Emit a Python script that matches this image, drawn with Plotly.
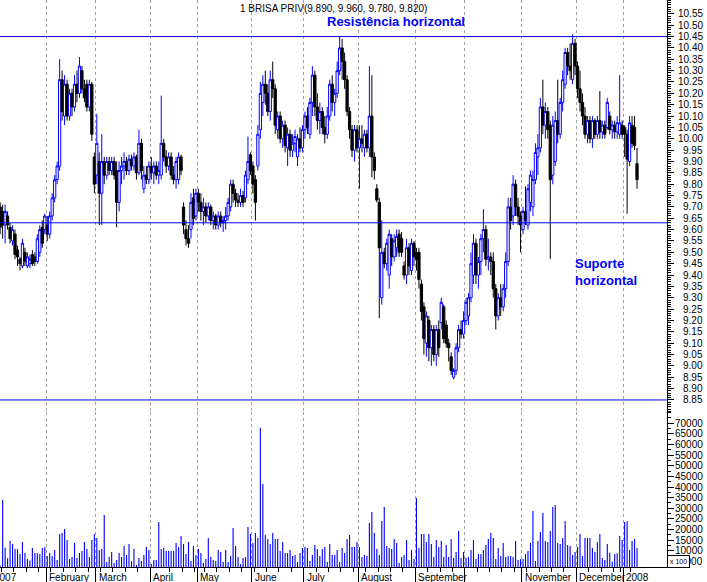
import pandas as pd
import plotly.graph_objects as go

# ---------------- data ----------------
holidays = ["2007-01-01", "2007-04-06", "2007-04-09", "2007-05-01",
            "2007-12-25", "2007-12-26", "2008-01-01"]
dates = [d for d in pd.bdate_range("2006-12-29", "2008-01-09")
         if d.strftime("%Y-%m-%d") not in holidays]

opens = [
    9.64, 9.68, 9.66, 9.70, 9.70, 9.68, 9.62, 9.66, 9.61, 9.55,
    9.58, 9.51, 9.47, 9.44, 9.50, 9.44, 9.45, 9.49, 9.48, 9.46,
    9.50, 9.61, 9.60, 9.62, 9.58, 9.66, 9.74, 9.82, 9.88, 10.26,
    10.10, 10.24, 10.10, 10.20, 10.14, 10.24, 10.20, 10.30, 10.22, 10.24,
    10.14, 10.24, 9.92, 9.84, 9.90, 9.76, 9.90, 9.84, 9.90, 9.86,
    9.90, 9.86, 9.72, 9.86, 9.88, 9.90, 9.86, 9.91, 9.88, 9.92,
    9.85, 9.98, 9.78, 9.84, 9.82, 9.88, 9.85, 9.88, 9.84, 9.84,
    9.98, 9.92, 9.88, 9.92, 9.84, 9.82, 9.82, 9.92, 9.70, 9.60,
    9.56, 9.60, 9.74, 9.66, 9.76, 9.72, 9.68, 9.70, 9.66, 9.70,
    9.64, 9.66, 9.62, 9.66, 9.63, 9.64, 9.66, 9.70, 9.80, 9.76,
    9.73, 9.72, 9.75, 9.74, 9.82, 9.93, 9.88, 9.82, 9.88, 10.04,
    10.16, 10.24, 10.20, 10.12, 10.26, 10.22, 10.04, 10.10, 10.00, 10.06,
    9.96, 10.02, 9.95, 9.98, 9.92, 10.00, 9.96, 10.04, 10.10, 10.02,
    10.16, 10.28, 10.14, 10.08, 10.12, 10.05, 10.02, 10.10, 10.24, 10.16,
    10.20, 10.30, 10.40, 10.34, 10.26, 10.12, 10.04, 9.95, 10.04, 9.96,
    10.00, 9.96, 10.02, 9.96, 10.10, 9.92, 9.78, 9.72, 9.30, 9.50,
    9.45, 9.40, 9.56, 9.48, 9.52, 9.58, 9.56, 9.44, 9.40, 9.52,
    9.42, 9.54, 9.50, 9.50, 9.36, 9.26, 9.10, 9.20, 9.08, 9.16,
    9.05, 9.16, 9.19, 9.26, 9.18, 9.10, 9.04, 8.95, 8.98, 9.08,
    9.16, 9.14, 9.20, 9.22, 9.30, 9.40, 9.54, 9.40, 9.46, 9.56,
    9.60, 9.47, 9.48, 9.46, 9.34, 9.22, 9.30, 9.26, 9.34, 9.46,
    9.70, 9.66, 9.80, 9.70, 9.66, 9.60, 9.68, 9.62, 9.72, 9.70,
    9.82, 9.92, 9.96, 10.14, 10.06, 10.12, 10.06, 9.84, 9.90, 10.08,
    10.02, 10.16, 10.24, 10.38, 10.32, 10.26, 10.42, 10.32, 10.22, 10.16,
    10.10, 10.02, 10.08, 10.00, 10.08, 10.02, 10.08, 10.03, 10.06, 10.05,
    10.10, 10.04, 10.06, 10.03, 10.02, 10.06, 10.05, 10.02, 9.90, 10.06,
    10.05, 9.89,
]
highs = [
    9.70, 9.72, 9.72, 9.71, 9.72, 9.71, 9.71, 9.68, 9.63, 9.62,
    9.60, 9.53, 9.48, 9.56, 9.52, 9.50, 9.49, 9.51, 9.50, 9.58,
    9.62, 9.64, 9.67, 9.66, 9.68, 9.76, 9.84, 9.90, 10.35, 10.30,
    10.28, 10.26, 10.22, 10.22, 10.28, 10.30, 10.36, 10.32, 10.26, 10.26,
    10.26, 10.25, 9.94, 10.11, 9.94, 10.02, 9.92, 9.92, 9.92, 9.92,
    9.92, 9.90, 9.90, 9.92, 9.94, 9.92, 9.93, 9.93, 9.94, 9.93,
    10.04, 10.00, 9.88, 9.88, 9.90, 9.92, 9.90, 9.90, 9.90, 10.19,
    10.00, 9.95, 9.94, 9.94, 9.88, 9.92, 9.94, 9.93, 9.72, 9.64,
    9.62, 9.76, 9.78, 9.78, 9.78, 9.76, 9.74, 9.72, 9.72, 9.71,
    9.68, 9.67, 9.68, 9.68, 9.66, 9.70, 9.74, 9.82, 9.82, 9.78,
    9.76, 9.78, 9.77, 9.86, 10.01, 9.94, 9.90, 9.84, 10.06, 10.25,
    10.28, 10.30, 10.24, 10.30, 10.34, 10.24, 10.12, 10.12, 10.08, 10.08,
    10.05, 10.04, 10.02, 10.04, 10.02, 10.05, 10.06, 10.12, 10.14, 10.18,
    10.32, 10.30, 10.20, 10.16, 10.14, 10.10, 10.14, 10.26, 10.28, 10.22,
    10.34, 10.45, 10.44, 10.38, 10.28, 10.14, 10.06, 10.06, 10.06, 10.06,
    10.06, 10.04, 10.04, 10.32, 10.28, 9.94, 9.80, 9.74, 9.64, 9.52,
    9.56, 9.60, 9.58, 9.58, 9.60, 9.60, 9.59, 9.46, 9.56, 9.54,
    9.56, 9.55, 9.52, 9.52, 9.38, 9.28, 9.24, 9.22, 9.18, 9.18,
    9.18, 9.20, 9.30, 9.27, 9.20, 9.12, 9.06, 8.99, 9.10, 9.18,
    9.20, 9.24, 9.30, 9.32, 9.50, 9.58, 9.56, 9.48, 9.58, 9.69,
    9.62, 9.56, 9.50, 9.50, 9.36, 9.32, 9.36, 9.36, 9.50, 9.74,
    9.74, 9.84, 9.82, 9.74, 9.68, 9.70, 9.79, 9.80, 9.86, 9.86,
    9.98, 10.02, 10.18, 10.26, 10.16, 10.14, 10.08, 10.10, 10.12, 10.26,
    10.18, 10.30, 10.40, 10.40, 10.42, 10.46, 10.44, 10.34, 10.30, 10.20,
    10.14, 10.10, 10.10, 10.10, 10.09, 10.10, 10.21, 10.08, 10.08, 10.18,
    10.12, 10.08, 10.08, 10.10, 10.28, 10.08, 10.06, 10.04, 10.10, 10.10,
    10.10, 9.96,
]
lows = [
    9.62, 9.64, 9.64, 9.62, 9.58, 9.56, 9.54, 9.60, 9.54, 9.53,
    9.47, 9.44, 9.42, 9.43, 9.44, 9.43, 9.43, 9.44, 9.44, 9.45,
    9.48, 9.52, 9.58, 9.55, 9.56, 9.64, 9.72, 9.80, 9.86, 10.08,
    10.06, 10.08, 10.08, 10.10, 10.12, 10.16, 10.18, 10.20, 10.16, 10.12,
    10.12, 9.99, 9.76, 9.80, 9.62, 9.62, 9.80, 9.82, 9.84, 9.84,
    9.82, 9.61, 9.68, 9.80, 9.82, 9.84, 9.84, 9.86, 9.86, 9.82,
    9.84, 9.82, 9.76, 9.80, 9.80, 9.82, 9.80, 9.82, 9.80, 9.82,
    9.90, 9.85, 9.86, 9.82, 9.80, 9.78, 9.80, 9.84, 9.58, 9.53,
    9.52, 9.56, 9.62, 9.64, 9.68, 9.64, 9.62, 9.63, 9.64, 9.62,
    9.60, 9.60, 9.60, 9.61, 9.59, 9.60, 9.64, 9.68, 9.72, 9.70,
    9.70, 9.70, 9.70, 9.72, 9.80, 9.84, 9.76, 9.64, 9.86, 10.00,
    10.10, 10.15, 10.10, 10.08, 10.18, 10.02, 10.00, 9.98, 9.96, 9.94,
    9.88, 9.92, 9.92, 9.94, 9.88, 9.94, 9.94, 10.00, 10.02, 10.00,
    10.10, 10.10, 10.04, 10.02, 10.02, 9.98, 10.00, 10.08, 10.12, 10.10,
    10.18, 10.28, 10.26, 10.22, 10.10, 10.00, 9.92, 9.90, 9.94, 9.78,
    9.94, 9.92, 9.94, 9.92, 9.83, 9.82, 9.72, 9.21, 9.27, 9.43,
    9.42, 9.34, 9.44, 9.46, 9.48, 9.48, 9.48, 9.38, 9.36, 9.40,
    9.40, 9.44, 9.42, 9.34, 9.20, 9.05, 9.04, 9.02, 9.00, 9.02,
    9.00, 9.04, 9.16, 9.10, 9.08, 9.02, 8.96, 8.94, 8.96, 9.06,
    9.12, 9.12, 9.18, 9.18, 9.28, 9.36, 9.36, 9.34, 9.40, 9.50,
    9.44, 9.42, 9.40, 9.30, 9.16, 9.20, 9.22, 9.24, 9.30, 9.44,
    9.60, 9.62, 9.66, 9.62, 9.50, 9.58, 9.62, 9.60, 9.68, 9.66,
    9.80, 9.84, 9.94, 10.02, 10.00, 10.00, 9.47, 9.80, 9.88, 9.98,
    10.00, 10.12, 10.22, 10.28, 10.26, 10.24, 10.28, 10.18, 10.12, 10.06,
    10.00, 9.98, 9.98, 9.96, 10.00, 10.00, 10.00, 10.00, 10.00, 10.04,
    10.02, 10.00, 10.00, 10.00, 10.00, 10.00, 9.92, 9.67, 9.88, 9.96,
    9.95, 9.78,
]
closes = [
    9.68, 9.66, 9.70, 9.65, 9.61, 9.62, 9.68, 9.62, 9.56, 9.60,
    9.49, 9.48, 9.45, 9.54, 9.46, 9.48, 9.47, 9.45, 9.46, 9.56,
    9.60, 9.54, 9.66, 9.58, 9.66, 9.74, 9.82, 9.88, 10.26, 10.12,
    10.24, 10.10, 10.20, 10.14, 10.24, 10.20, 10.32, 10.22, 10.18, 10.14,
    10.24, 10.02, 9.80, 9.98, 9.76, 9.90, 9.84, 9.90, 9.86, 9.90,
    9.84, 9.72, 9.86, 9.88, 9.90, 9.86, 9.91, 9.88, 9.92, 9.85,
    9.98, 9.86, 9.84, 9.82, 9.88, 9.85, 9.88, 9.84, 9.86, 9.98,
    9.92, 9.88, 9.92, 9.84, 9.82, 9.90, 9.92, 9.86, 9.62, 9.56,
    9.54, 9.72, 9.65, 9.76, 9.72, 9.68, 9.70, 9.66, 9.70, 9.64,
    9.66, 9.62, 9.66, 9.63, 9.64, 9.66, 9.72, 9.80, 9.76, 9.73,
    9.72, 9.75, 9.72, 9.84, 9.90, 9.86, 9.80, 9.72, 10.02, 10.20,
    10.24, 10.20, 10.12, 10.26, 10.22, 10.06, 10.10, 10.00, 10.06, 9.97,
    10.02, 9.95, 9.98, 10.01, 10.00, 9.96, 10.04, 10.10, 10.05, 10.16,
    10.28, 10.14, 10.08, 10.12, 10.05, 10.02, 10.10, 10.24, 10.16, 10.20,
    10.30, 10.40, 10.34, 10.26, 10.12, 10.04, 9.95, 10.04, 9.96, 10.00,
    9.98, 10.02, 9.96, 10.10, 9.92, 9.86, 9.73, 9.52, 9.50, 9.45,
    9.54, 9.58, 9.48, 9.55, 9.57, 9.50, 9.50, 9.40, 9.52, 9.44,
    9.54, 9.48, 9.47, 9.38, 9.24, 9.12, 9.22, 9.08, 9.16, 9.05,
    9.16, 9.08, 9.28, 9.12, 9.10, 9.08, 8.98, 8.98, 9.08, 9.16,
    9.14, 9.20, 9.28, 9.30, 9.45, 9.54, 9.40, 9.46, 9.56, 9.60,
    9.47, 9.48, 9.46, 9.34, 9.22, 9.30, 9.26, 9.34, 9.46, 9.70,
    9.64, 9.80, 9.70, 9.66, 9.62, 9.68, 9.64, 9.78, 9.84, 9.82,
    9.94, 9.96, 10.14, 10.06, 10.12, 10.04, 9.82, 10.06, 10.08, 10.02,
    10.16, 10.26, 10.38, 10.32, 10.30, 10.42, 10.32, 10.22, 10.16, 10.10,
    10.02, 10.08, 10.00, 10.08, 10.02, 10.08, 10.03, 10.06, 10.02, 10.16,
    10.04, 10.06, 10.03, 10.07, 10.07, 10.02, 10.02, 9.91, 10.07, 9.98,
    9.97, 9.82,
]
volumes = [
    12000, 9000, 15000, 10000, 3000, 33900, 11450, 6430, 14580, 13170,
    10820, 10820, 8470, 14110, 8940, 6110, 5480, 11290, 8940, 8940,
    8470, 11290, 11760, 7530, 8940, 7530, 10350, 5640, 17880, 18350,
    20230, 15050, 6110, 7050, 13640, 6580, 8940, 9880, 14110, 10820,
    7050, 15050, 17880, 16000, 10350, 10820, 26820, 4700, 7050, 9410,
    4230, 5640, 8940, 7050, 12230, 8000, 13170, 5170, 10820, 3290,
    6580, 5170, 8000, 11760, 10350, 3760, 5640, 5640, 23530, 10820,
    11290, 9880, 9880, 9880, 9880, 13640, 11760, 16940, 13170, 8470,
    14110, 5170, 12230, 8000, 10820, 8940, 4230, 6110, 16000, 7050,
    5640, 5170, 10350, 9410, 4700, 10350, 4700, 7530, 20700, 12230,
    7050, 3760, 6580, 7050, 21170, 17880, 13640, 18350, 16000, 67930,
    41410, 17410, 15530, 13170, 18350, 15530, 15530, 9880, 14110, 8940,
    8940, 10350, 7530, 8000, 4700, 8940, 11290, 11760, 11290, 5170,
    8000, 12700, 10820, 7530, 10820, 11760, 4700, 13170, 8000, 8000,
    10350, 4700, 11290, 8940, 15530, 17410, 11760, 11760, 14110, 11760,
    7050, 8000, 7530, 23060, 28230, 18350, 10820, 8000, 24000, 30590,
    12230, 11290, 10820, 15530, 13640, 4230, 7050, 8000, 15050, 5640,
    10350, 6110, 34820, 11290, 17880, 17880, 14110, 17880, 13170, 7050,
    15050, 11760, 14580, 7050, 12700, 7050, 15530, 6580, 9410, 19290,
    6580, 9410, 6580, 7050, 10350, 15050, 6110, 8470, 8470, 10350,
    12700, 15530, 18350, 16000, 6110, 11290, 7530, 13640, 7050, 7530,
    7530, 7050, 14580, 5640, 6110, 6110, 8470, 9880, 13640, 28700,
    5170, 14580, 18820, 27760, 14580, 14110, 19290, 30590, 31530, 13640,
    13170, 16000, 24000, 12700, 12230, 8000, 9410, 11760, 17880, 7530,
    16000, 16000, 16000, 11290, 9410, 14110, 17880, 6580, 5640, 13170,
    9090, 4860, 8470, 8780, 16940, 15050, 23530, 23840, 10350, 14580,
    15530, 11290,
]

month_names = ["2007", "February", "March", "April", "May", "June", "July",
               "August", "September", "", "November", "December", "2008"]
resistance = 10.45
support = 9.63
floor_line = 8.85
ticker = "1 BRISA PRIV"

price_tick_min, price_tick_max, price_tick_step = 8.85, 10.55, 0.05
vol_tick_min, vol_tick_max, vol_tick_step = 5000, 70000, 5000

assert len(dates) == len(opens) == len(highs) == len(lows) == len(closes) == len(volumes)

# ---------------- geometry ----------------
W, H = 707, 582
ML, MR, MT, MB = 0, 40, 0, 15
PW, PH = W - ML - MR, H - MT - MB
price_px = 412
split = 1 - price_px / PH
x_range = [3.935, 273.1]
price_range = [8.797, 10.611]
vol_range = [2365, 75318]

idx = list(range(len(dates)))
month_starts = [i for i in idx if i > 0 and dates[i].month != dates[i - 1].month]
mondays = [i - 0.5 for i in idx if dates[i].weekday() == 0]
grid_x = [m - 0.5 for m in month_starts]

BLUE = "#0000FF"
FONT = "Liberation Sans, Arial, sans-serif"

fig = go.Figure()
fig.add_trace(go.Candlestick(
    x=idx, open=opens, high=highs, low=lows, close=closes,
    xaxis="x", yaxis="y",
    increasing=dict(line=dict(color=BLUE, width=1), fillcolor="white"),
    decreasing=dict(line=dict(color="black", width=1), fillcolor="black"),
    whiskerwidth=0, showlegend=False, hoverinfo="skip",
))
fig.add_trace(go.Bar(
    x=idx, y=volumes, xaxis="x2", yaxis="y2", width=0.45,
    marker=dict(color=BLUE, line=dict(width=0)), showlegend=False, hoverinfo="skip",
))

grid_common = dict(
    tickmode="array", tickvals=grid_x, showgrid=True, gridcolor="#A0A0A0",
    griddash="dot", gridwidth=1, zeroline=False, range=x_range,
)
price_ticks = []
v = price_tick_min
while v <= price_tick_max + 1e-9:
    price_ticks.append(round(v, 2))
    v += price_tick_step
vol_ticks = list(range(vol_tick_min, vol_tick_max + 1, vol_tick_step))

fig.update_layout(
    width=W, height=H, margin=dict(l=ML, r=MR, t=MT, b=MB),
    paper_bgcolor="white", plot_bgcolor="white",
    font=dict(family=FONT, size=10, color="black"),
    showlegend=False, boxgap=0.05, boxgroupgap=0.05,
    xaxis=dict(domain=[0, 1], anchor="y", showticklabels=False, ticks="",
               rangeslider=dict(visible=False), **grid_common),
    xaxis2=dict(domain=[0, 1], anchor="y2", matches="x", showticklabels=False,
                ticks="outside", ticklen=14, tickcolor="black", tickwidth=1,
                showline=True, linecolor="black", linewidth=1,
                minor=dict(tickmode="array", tickvals=mondays, ticks="outside",
                           ticklen=4, tickcolor="black", showgrid=False),
                **grid_common),
    yaxis=dict(domain=[split, 1], anchor="x", side="right", range=price_range,
               tickmode="array", tickvals=price_ticks, showticklabels=False,
               ticks="outside", ticklen=6, tickcolor="black",
               minor=dict(dtick=0.01, tick0=0, ticks="outside", ticklen=3,
                          tickcolor="black", showgrid=False),
               showline=True, linecolor="black", showgrid=False, zeroline=False),
    yaxis2=dict(domain=[0, split], anchor="x2", side="right", range=vol_range,
                tickmode="array", tickvals=vol_ticks, showticklabels=False,
                ticks="outside", ticklen=6, tickcolor="black",
                minor=dict(dtick=2500, tick0=0, ticks="outside", ticklen=3,
                           tickcolor="black", showgrid=False),
                showline=True, linecolor="black", showgrid=False, zeroline=False),
)

# horizontal lines
for level in (resistance, support, floor_line):
    fig.add_shape(type="line", xref="paper", x0=0, x1=1, yref="y", y0=level, y1=level,
                  line=dict(color=BLUE, width=1))

# right-aligned axis labels
lab_x = 704 / PW
for t in price_ticks:
    fig.add_annotation(x=lab_x, xref="paper", xanchor="right", y=t, yref="y",
                       yanchor="middle", text=f"{t:.2f}", showarrow=False,
                       font=dict(size=10, color="black"), borderpad=0)
for t in vol_ticks:
    fig.add_annotation(x=lab_x, xref="paper", xanchor="right", y=t, yref="y2",
                       yanchor="middle", text=f"{t}", showarrow=False,
                       font=dict(size=10, color="black"), borderpad=0)
fig.add_annotation(x=1.0, xref="paper", xanchor="left", y=vol_tick_min, yref="y2",
                   yanchor="middle", text="x 100", showarrow=False,
                   font=dict(size=7, color="black"), bgcolor="white",
                   bordercolor="black", borderwidth=1, borderpad=2)

# month labels
for m, name in zip(month_starts, month_names):
    if not name:
        continue
    px = (m - 0.5 - x_range[0]) / (x_range[1] - x_range[0])
    fig.add_annotation(x=px + 2 / PW, xref="paper", xanchor="left", y=0, yref="paper",
                       yanchor="top", yshift=-4, text=name, showarrow=False,
                       font=dict(size=10, color="black"), borderpad=0)

# title and comments
title = f"{ticker}({opens[-1]:.3f}, {highs[-1]:.3f}, {lows[-1]:.3f}, {closes[-1]:.3f})"
fig.add_annotation(x=333 / PW, xref="paper", xanchor="center", y=1 - 8 / PH, yref="paper",
                   yanchor="middle", text=title, showarrow=False,
                   font=dict(size=10, color="black"), borderpad=0)
fig.add_annotation(x=396 / PW, xref="paper", xanchor="center", y=1 - 21.5 / PH, yref="paper",
                   yanchor="middle", text="<b>Resistência horizontal</b>", showarrow=False,
                   font=dict(size=13, color=BLUE), borderpad=0)
fig.add_annotation(x=574 / PW, xref="paper", xanchor="left", align="left",
                   y=1 - 271.5 / PH, yref="paper", yanchor="middle",
                   text="<b>Suporte</b><br><b>horizontal</b>", showarrow=False,
                   font=dict(size=13, color=BLUE), borderpad=0)

fig.write_html(
    "out.html",
    config={"displayModeBar": False, "staticPlot": True},
    post_script="document.body.style.margin='0';document.body.style.overflow='hidden';",
)
